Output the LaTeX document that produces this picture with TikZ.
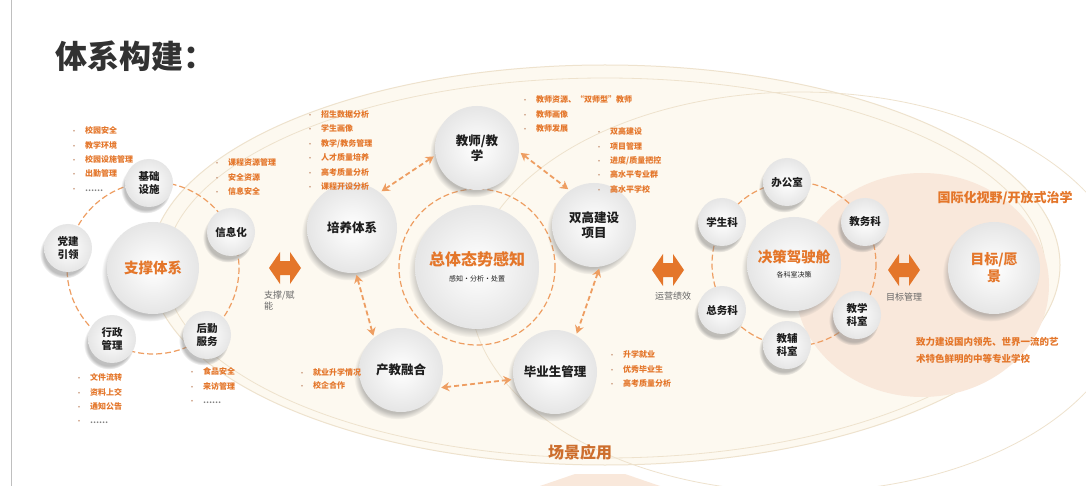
\documentclass[tikz,border=0pt]{standalone}
\usepackage{fontspec}
\setmainfont{Noto Sans CJK SC}
\usetikzlibrary{shadows,arrows.meta,fadings}
\definecolor{orng}{RGB}{228,118,42}
\definecolor{lorng}{RGB}{238,158,98}
\definecolor{dorng}{RGB}{205,110,45}
\definecolor{cream}{RGB}{253,249,240}
\definecolor{creamline}{RGB}{238,226,205}
\definecolor{peach}{RGB}{249,232,219}
\definecolor{bulc}{RGB}{200,150,120}
\definecolor{titlec}{RGB}{50,50,50}
\definecolor{labc}{RGB}{30,30,30}
\newcommand{\li}[1]{\makebox[14pt][l]{\textcolor{bulc}{\fontsize{6}{6}\selectfont •}}#1}
\newcommand{\lidots}{\makebox[14pt][l]{\textcolor{bulc}{\fontsize{6}{6}\selectfont •}}\textcolor{gray}{……}}
\tikzset{
  ball/.style={circle, inner sep=0pt, align=center, text=labc,
    shading=radial, inner color=white, outer color=black!10,
    circular drop shadow={shadow xshift=-3pt, shadow yshift=-5pt, shadow scale=1.05, opacity=0.5}},
  sball/.style={ball, minimum size=48pt, font=\fontsize{10.5}{12.5}\selectfont\bfseries},
  mball/.style={ball, minimum size=84pt, font=\fontsize{12.5}{15}\selectfont\bfseries},
  bball/.style={ball, minimum size=#1, text=orng},
  ring/.style={draw=lorng, line width=1.2pt, dash pattern=on 6pt off 3pt},
  dasharr/.style={draw=lorng, line width=1.8pt, dash pattern=on 5pt off 3pt,
    {Stealth[length=8pt,width=9pt]}-{Stealth[length=8pt,width=9pt]}, shorten <=2pt, shorten >=2pt},
  listnode/.style={anchor=north west, inner sep=0pt, align=left, text=orng,
    font=\fontsize{8}{14.4}\selectfont\bfseries},
  arrlab/.style={text=black!60, font=\fontsize{9}{11}\selectfont, inner sep=0pt},
  fatarrow/.pic={\fill[orng] (-16,0) -- (-5,-16) -- (-5,-7) -- (5,-7) -- (5,-16) -- (16,0)
      -- (5,16) -- (5,7) -- (-5,7) -- (-5,16) -- cycle;}
}
\begin{document}
\begin{tikzpicture}[x=1pt,y=-1pt]
\useasboundingbox (0,0) rectangle (1086,486);
\fill[white] (0,0) rectangle (1086,486);
% left rule
\draw[black!25, line width=1pt] (11,0) -- (11,486);
% background ellipses
\fill[cream] (605,265) ellipse [x radius=455, y radius=200];
\draw[creamline, line width=1pt] (605,265) ellipse [x radius=455, y radius=200];
\draw[creamline, line width=0.8pt] (605,268) ellipse [x radius=440, y radius=190];
\draw[creamline, line width=0.8pt] (800,292) ellipse [x radius=330, y radius=200];
\fill[peach] (922,285) ellipse [x radius=127, y radius=112];
% bottom arrow hint
\fill[peach] (540,486) -- (575,474) -- (625,474) -- (660,486) -- cycle;
% title
\node[anchor=west, text=titlec, font=\fontsize{32}{34}\selectfont\bfseries, inner sep=0pt] (title) at (55,56) {体系构建：};

% ---------- left group ----------
\draw[ring] (153,268) circle [radius=86];
\node[bball=92pt, font=\fontsize{14.5}{16}\selectfont\bfseries] (zc) at (153,268) {支撑体系};
\node[sball] (jc) at (149,183) {基础\\设施};
\node[sball] (xx) at (231,232) {信息化};
\node[sball] (dj) at (68,248) {党建\\引领};
\node[sball] (xz) at (112,339) {行政\\管理};
\node[sball] (hq) at (207,335) {后勤\\服务};

\node[listnode] (ljc) at (71,126.5) {\li{校园安全}\\\li{教学环境}\\\li{校园设施管理}\\\li{出勤管理}\\\lidots};
\node[listnode] (lxx) at (214,158.5) {\li{课程资源管理}\\\li{安全资源}\\\li{信息安全}};
\node[listnode] (lxz) at (76,373.5) {\li{文件流转}\\\li{资料上交}\\\li{通知公告}\\\lidots};
\node[listnode] (lhq) at (189,367.5) {\li{食品安全}\\\li{来访管理}\\\lidots};

\pic at (285,268) {fatarrow};
\node[arrlab, anchor=north west, align=left] (l1) at (264,291) {支撑/赋\\能};

% ---------- middle group ----------
\draw[ring] (477,267) circle [radius=78];
\node[bball=124pt] (zt) at (477,267) {\fontsize{16}{18}\selectfont\bfseries 总体态势感知\\[4pt]\textcolor{labc}{\fontsize{7}{8}\selectfont 感知·分析·处置}};
\node[mball] (js) at (477,148) {教师/教\\学};
\node[mball, minimum size=90pt] (py) at (352,228) {培养体系};
\node[mball] (sg) at (594,225) {双高建设\\项目};
\node[mball] (cj) at (401,370) {产教融合};
\node[mball] (by) at (555,372) {毕业生管理};

\draw[dasharr] (py.52) -- (js.190);
\draw[dasharr] (js.355) -- (sg.125);
\draw[dasharr] (py.275) -- (cj.130);
\draw[dasharr] (cj.335) -- (by.190);
\draw[dasharr] (sg.278) -- (by.60);

\node[listnode] (lpy) at (307,110.5) {\li{招生数据分析}\\\li{学生画像}\\\li{教学/教务管理}\\\li{人才质量培养}\\\li{高考质量分析}\\\li{课程开设分析}};
\node[listnode] (ljs) at (522,95.5) {\li{教师资源、“双师型”教师}\\\li{教师画像}\\\li{教师发展}};
\node[listnode] (lsg) at (596,127.5) {\li{双高建设}\\\li{项目管理}\\\li{进度/质量把控}\\\li{高水平专业群}\\\li{高水平学校}};
\node[listnode, font=\fontsize{8}{12.8}\selectfont\bfseries] (lcj) at (299,368.5) {\li{就业升学情况}\\\li{校企合作}};
\node[listnode] (lby) at (609,350.5) {\li{升学就业}\\\li{优秀毕业生}\\\li{高考质量分析}};

\pic at (668,270) {fatarrow};
\node[arrlab] (l2) at (673,296) {运营绩效};

% ---------- right group ----------
\draw[ring] (794,264) circle [radius=82];
\node[bball=94pt] (jcjs) at (794,264) {\fontsize{14.5}{16}\selectfont\bfseries 决策驾驶舱\\[3pt]\textcolor{labc}{\fontsize{7}{8}\selectfont 各科室决策}};
\node[sball] (bgs) at (787,182) {办公室};
\node[sball] (xsk) at (722,222) {学生科};
\node[sball] (jwk) at (865,222) {教务科};
\node[sball] (zwk) at (722,310) {总务科};
\node[sball] (jxks) at (857,315) {教学\\科室};
\node[sball] (jfks) at (787,345) {教辅\\科室};

\pic at (904,270) {fatarrow};
\node[arrlab] (l3) at (904,297) {目标管理};

\node[bball=92pt, font=\fontsize{14}{17}\selectfont\bfseries] (mb) at (994,268) {目标/愿\\景};
\node[text=orng, font=\fontsize{13}{15}\selectfont\bfseries, inner sep=0pt] (gj) at (1005,198) {国际化视野/开放式治学};
\node[anchor=north west, text=orng, align=left, inner sep=0pt, font=\fontsize{9.5}{17}\selectfont\bfseries] (zl) at (916,337) {致力建设国内领先、世界一流的艺\\术特色鲜明的中等专业学校};

% bottom label
\node[text=dorng, font=\fontsize{16}{18}\selectfont\bfseries, inner sep=0pt] (cy) at (580,452) {场景应用};
\end{tikzpicture}
\end{document}
